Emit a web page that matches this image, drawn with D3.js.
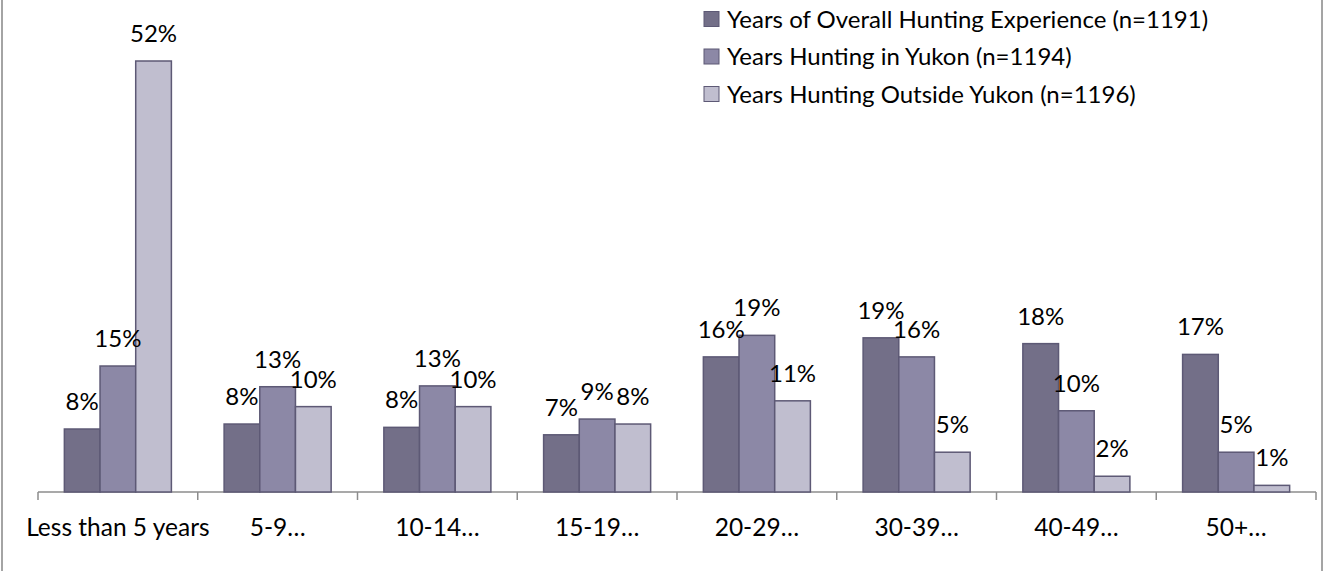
<!DOCTYPE html>
<html>
<head>
<meta charset="utf-8">
<script src="https://cdn.jsdelivr.net/npm/d3@7"></script>
<style>
  body { margin: 0; background: #fff; }
  svg { display: block; font-family: Lato, "Open Sans", sans-serif; }
</style>
</head>
<body>
<svg class="chart"></svg>
<script>
(function() {
  'use strict';

var categories = ['Less than 5 years', '5-9…', '10-14…', '15-19…', '20-29…', '30-39…', '40-49…', '50+…'];
var seriesNames = [
  'Years of Overall Hunting Experience (n=1191)',
  'Years Hunting in Yukon (n=1194)',
  'Years Hunting Outside Yukon (n=1196)'
];
var overall = [7.6, 8.2, 7.8, 6.9, 16.3, 18.6, 17.9, 16.6];
var inYukon = [15.2, 12.7, 12.8, 8.8, 18.9, 16.3, 9.8, 4.8];
var outsideYukon = [52.0, 10.3, 10.3, 8.2, 11.0, 4.8, 1.9, 0.8];
var valueLabels = [
  ['8%', '8%', '8%', '7%', '16%', '19%', '18%', '17%'],
  ['15%', '13%', '13%', '9%', '19%', '16%', '10%', '5%'],
  ['52%', '10%', '10%', '8%', '11%', '5%', '2%', '1%']
];

var colors = ['#736f88', '#8c88a6', '#c0becf'];
var strokeColor = '#5d5975';

var width = 1324,
    height = 571;

var series = [overall, inYukon, outsideYukon];

var svg = d3.select('.chart')
    .attr('width', width)
    .attr('height', height);

// outer frame
svg.append('rect')
    .attr('x', 2)
    .attr('y', -2)
    .attr('width', 1320)
    .attr('height', height + 4)
    .attr('fill', 'none')
    .attr('stroke', '#878787')
    .attr('stroke-width', 1.5);

var baseline = 492;

var y = d3.scaleLinear()
    .domain([0, 52])
    .range([baseline, 61]);

var xCat = d3.scaleBand()
    .domain(categories)
    .range([38, 1316])
    .padding(0);

var x = d3.scaleBand()
    .domain(categories)
    .range([38, 1316])
    .paddingInner(0.33)
    .paddingOuter(0.165);

var x1 = d3.scaleBand()
    .domain(d3.range(series.length))
    .range([0, x.bandwidth()]);

var rows = [];
categories.forEach(function(c, i) {
  series.forEach(function(s, j) {
    rows.push({cat: c, s: j, value: s[i], label: valueLabels[j][i]});
  });
});

// axis line and ticks between categories
var axis = svg.append('g').attr('class', 'x axis');
axis.append('line')
    .attr('x1', xCat.range()[0])
    .attr('x2', xCat.range()[1])
    .attr('y1', baseline)
    .attr('y2', baseline)
    .attr('stroke', '#8c8c8c')
    .attr('stroke-width', 1.5);

var tickPos = categories.map(function(c) { return xCat(c); }).concat([xCat.range()[1]]);
axis.selectAll('.tick')
    .data(tickPos)
  .enter().append('line')
    .attr('class', 'tick')
    .attr('x1', function(d) { return d; })
    .attr('x2', function(d) { return d; })
    .attr('y1', baseline)
    .attr('y2', baseline + 8)
    .attr('stroke', '#8c8c8c')
    .attr('stroke-width', 1.5);

axis.selectAll('.cat')
    .data(categories)
  .enter().append('text')
    .attr('class', 'cat')
    .attr('x', function(d) { return xCat(d) + xCat.bandwidth() / 2; })
    .attr('y', 536)
    .attr('text-anchor', 'middle')
    .attr('font-size', 24.5)
    .attr('fill', '#000')
    .text(function(d) { return d; });

// bars
svg.append('g').selectAll('rect')
    .data(rows)
  .enter().append('rect')
    .attr('x', function(d) { return x(d.cat) + x1(d.s); })
    .attr('y', function(d) { return y(d.value); })
    .attr('width', x1.bandwidth())
    .attr('height', function(d) { return baseline - y(d.value); })
    .attr('fill', function(d) { return colors[d.s]; })
    .attr('stroke', strokeColor)
    .attr('stroke-width', 1.5);

// value labels
svg.append('g').selectAll('text')
    .data(rows)
  .enter().append('text')
    .attr('x', function(d) { return x(d.cat) + x1(d.s) + x1.bandwidth() / 2; })
    .attr('y', function(d) { return y(d.value) - 19; })
    .attr('text-anchor', 'middle')
    .attr('font-size', 24)
    .attr('fill', '#000')
    .text(function(d) { return d.label; });

// legend
var legend = svg.append('g')
    .selectAll('g')
    .data(seriesNames)
  .enter().append('g')
    .attr('transform', function(d, i) { return 'translate(704,' + (19 + i * 37.5) + ')'; });

legend.append('rect')
    .attr('x', 0)
    .attr('y', -7.5)
    .attr('width', 15)
    .attr('height', 15)
    .attr('fill', function(d, i) { return colors[i]; })
    .attr('stroke', strokeColor)
    .attr('stroke-width', 1);

legend.append('text')
    .attr('x', 23)
    .attr('y', 8.5)
    .attr('font-size', 24)
    .attr('fill', '#000')
    .text(function(d) { return d; });
}());
</script>
</body>
</html>
